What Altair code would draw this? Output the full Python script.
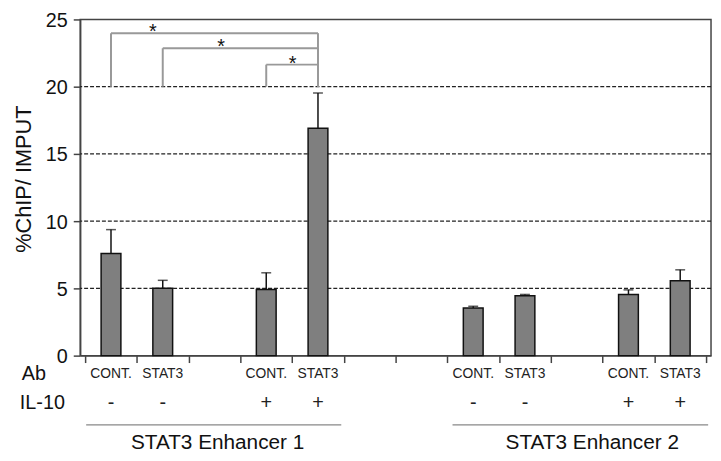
import altair as alt
import pandas as pd

# ---- data ----
bar_slots = [1, 2, 4, 5, 8, 9, 11, 12]          # 12 slots, some empty
bar_values = [7.60, 5.01, 4.92, 16.90, 3.55, 4.46, 4.55, 5.57]
bar_errors = [1.77, 0.59, 1.24, 2.63, 0.12, 0.09, 0.34, 0.81]
ab_labels = ["CONT.", "STAT3", "CONT.", "STAT3", "CONT.", "STAT3", "CONT.", "STAT3"]
il10_labels = ["-", "-", "+", "+", "-", "-", "+", "+"]
grid_values = [5, 10, 15, 20]
y_ticks = [0, 5, 10, 15, 20, 25]

# significance brackets (left slot -> right slot 5, height of bracket)
bracket_left = [1, 2, 4]
bracket_right = 5
bracket_base = 20
bracket_top = [23.98, 22.86, 21.64]
star_pos = [1.31, 2.63, 4.01]

groups = ["STAT3 Enhancer 1", "STAT3 Enhancer 2"]
group_start = [0.02, 7.10]
group_end = [4.95, 12.04]
group_label_pos = [2.56, 9.80]

row_heads = ["Ab", "IL-10"]

FONT = "Liberation Sans"
W, H = 638, 340

bars = pd.DataFrame({
    "pos": [s - 0.5 for s in bar_slots],
    "value": bar_values,
    "top": [v + e for v, e in zip(bar_values, bar_errors)],
    "ab": ab_labels,
    "il10": il10_labels,
})
grid_df = pd.DataFrame({"g": grid_values})
br = pd.DataFrame({
    "left": [b - 0.5 for b in bracket_left],
    "right": [bracket_right - 0.5] * len(bracket_left),
    "base": [bracket_base] * len(bracket_left),
    "top": bracket_top,
    "star": star_pos,
})
grp = pd.DataFrame({"name": groups, "start": group_start, "end": group_end, "mid": group_label_pos})
one = pd.DataFrame({"k": [0]})

xs = alt.Scale(domain=[0, 12], nice=False, zero=False)
ys = alt.Scale(domain=[0, 25], nice=False)

x_axis = alt.Axis(values=list(range(13)), labels=False, title=None, grid=False,
                  tickSize=7, tickColor="#444", tickWidth=1.5,
                  domainColor="#444", domainWidth=1.5)
y_axis = alt.Axis(values=y_ticks, title="%ChIP/ IMPUT", grid=False,
                  tickSize=7, tickColor="#444", tickWidth=1.5,
                  domainColor="#444", domainWidth=1.5,
                  labelFontSize=20, labelColor="#111", labelPadding=6, labelOffset=1,
                  labelFont=FONT, titleFont=FONT, titleFontSize=22,
                  titleFontWeight="normal", titleColor="#111",
                  titleX=-57, titleY=161, titleAlign="center",
                  titleBaseline="middle", titleAngle=-90)


def X(field):
    return alt.X(field, scale=xs, axis=x_axis)


def Y(field):
    return alt.Y(field, scale=ys, axis=y_axis)


grid = alt.Chart(grid_df).mark_rule(strokeDash=[4, 2], color="#222", strokeWidth=1.3).encode(
    y=Y("g:Q")
)

bar_layer = alt.Chart(bars).mark_bar(size=20, color="#7f7f7f", stroke="#111", strokeWidth=1.5).encode(
    x=X("pos:Q"), y=Y("value:Q"),
)

err_line = alt.Chart(bars).mark_rule(color="#111", strokeWidth=1.5).encode(
    x=X("pos:Q"), y=Y("value:Q"), y2="top:Q",
)
err_cap = alt.Chart(bars).mark_tick(color="#111", size=10, thickness=1.5, orient="horizontal").encode(
    x=X("pos:Q"), y=Y("top:Q"),
)

br_left = alt.Chart(br).mark_rule(color="#999", strokeWidth=2).encode(
    x=X("left:Q"), y=Y("base:Q"), y2="top:Q",
)
br_top = alt.Chart(br).mark_rule(color="#999", strokeWidth=2).encode(
    x=X("left:Q"), x2="right:Q", y=Y("top:Q"),
)
br_right = alt.Chart(br).mark_rule(color="#999", strokeWidth=2).encode(
    x=X("right:Q"), y=Y("base:Q"), y2="top:Q",
)
stars = alt.Chart(br).mark_text(text="*", fontSize=20, font=FONT, color="#111",
                                baseline="middle", dy=-1).encode(
    x=X("star:Q"), y=Y("top:Q"),
)

ab_text = alt.Chart(bars).mark_text(fontSize=14, font=FONT, color="#222", baseline="middle").encode(
    x=X("pos:Q"), y=alt.value(359), text="ab:N",
)
il_text = alt.Chart(bars).mark_text(fontSize=20, font=FONT, color="#222", baseline="middle").encode(
    x=X("pos:Q"), y=alt.value(388), text="il10:N",
)
head_ab = alt.Chart(one).mark_text(text=row_heads[0], fontSize=20, font=FONT, color="#111",
                                   baseline="middle", align="left").encode(
    x=alt.value(-59), y=alt.value(359),
)
head_il = alt.Chart(one).mark_text(text=row_heads[1], fontSize=20, font=FONT, color="#111",
                                   baseline="middle", align="left").encode(
    x=alt.value(-61), y=alt.value(388),
)
grp_line = alt.Chart(grp).mark_rule(color="#888", strokeWidth=1.3).encode(
    x=X("start:Q"), x2="end:Q", y=alt.value(410),
)
grp_text = alt.Chart(grp).mark_text(fontSize=21, font=FONT, color="#111", baseline="middle").encode(
    x=X("mid:Q"), y=alt.value(428), text="name:N",
)

chart = alt.layer(
    grid, bar_layer, err_line, err_cap, br_left, br_top, br_right, stars,
    ab_text, il_text, head_ab, head_il, grp_line, grp_text
).properties(
    width=W, height=H,
    autosize=alt.AutoSizeParams(type="none"),
    padding={"left": 73, "top": 9, "right": 2, "bottom": 104},
).configure_view(
    stroke="#444", strokeWidth=1.5
).configure_axis(
    labelFont=FONT, titleFont=FONT
)

chart.save("out.html", embed_options={"renderer": "svg", "actions": False})
